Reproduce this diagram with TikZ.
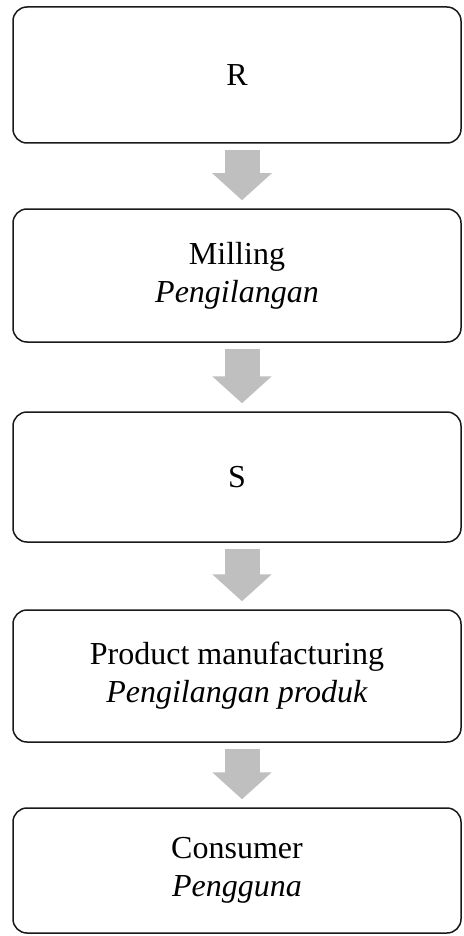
\documentclass[tikz,border=0pt]{standalone}
\usepackage{fontspec}
\setmainfont{Liberation Serif}
\usetikzlibrary{arrows.meta}
\tikzset{
  stage/.style={draw=black!90, line width=1.5pt, rounded corners=14pt,
    minimum width=448pt, align=center, inner sep=0pt,
    font=\fontsize{32}{38}\selectfont},
  flow/.style={draw=gray!50, line width=35pt,
    -{Triangle[width=58pt,length=27pt]}, shorten <=6pt, shorten >=8pt}
}
\begin{document}
\begin{tikzpicture}[x=1pt,y=-1pt]
      \useasboundingbox (0,0) rectangle (463,936);
      \node[stage, minimum height=136pt] (r) at (237,75) {R};
      \node[stage, minimum height=133pt] (milling) at (237,275.5) {Milling\\ \textit{Pengilangan}};
      \node[stage, minimum height=130pt] (s) at (237,477) {S};
      \node[stage, minimum height=132pt] (product) at (237,676) {Product manufacturing\\ \textit{Pengilangan produk}};
      \node[stage, minimum height=125pt] (consumer) at (237,870.5) {Consumer\\ \textit{Pengguna}};
      \begin{scope}[flow]
        \draw ([xshift=5pt]r.south) to ([xshift=5pt]milling.north);
        \draw ([xshift=5pt]milling.south) to ([xshift=5pt]s.north);
        \draw ([xshift=5pt]s.south) to ([xshift=5pt]product.north);
        \draw ([xshift=5pt]product.south) to ([xshift=5pt]consumer.north);
      \end{scope}
    \end{tikzpicture}
\end{document}
